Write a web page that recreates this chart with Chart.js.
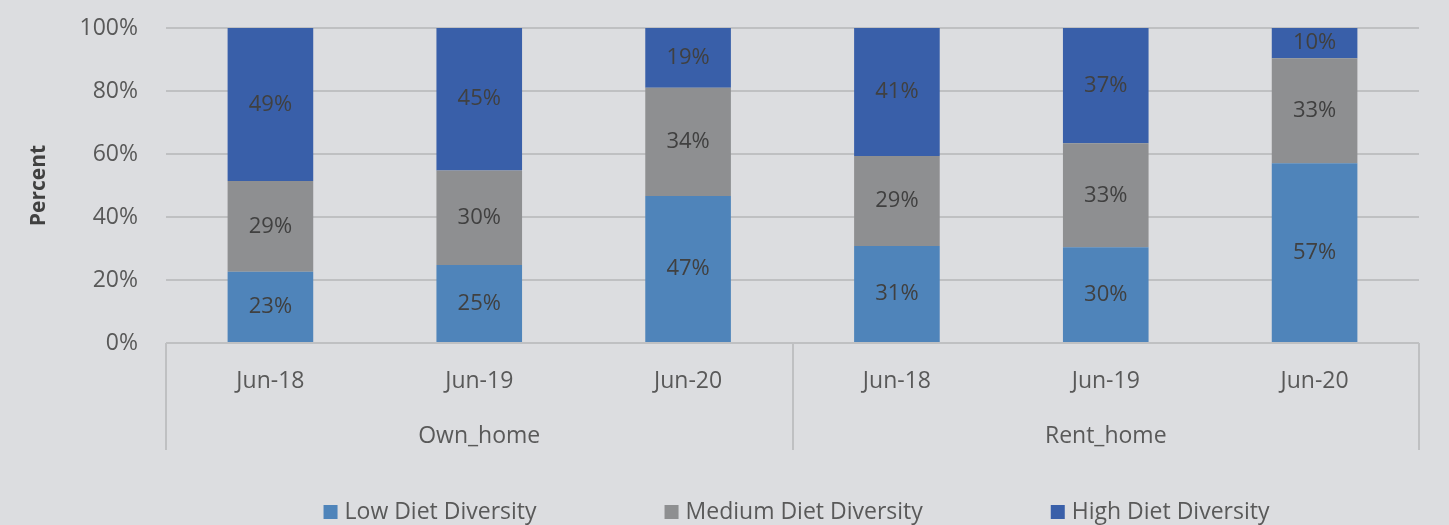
<!DOCTYPE html>
<html>
<head>
<meta charset="utf-8">
<script src="https://cdn.jsdelivr.net/npm/chart.js@4"></script>
<style>
  html, body { margin: 0; padding: 0; background: #dcdde0; }
  #wrap { width: 1449px; height: 525px; position: relative; }
</style>
</head>
<body>
<div id="wrap"><canvas id="dietChart"></canvas></div>
<script>
// ==============================
// DATA
// ==============================
const periods = ["Jun-18", "Jun-19", "Jun-20", "Jun-18", "Jun-19", "Jun-20"];
const groups = ["Own_home", "Rent_home"];
const lowDiversity = [22.6, 24.8, 46.7, 30.8, 30.4, 57.1];
const mediumDiversity = [28.8, 30.0, 34.3, 28.6, 33.0, 33.3];
const highDiversity = [48.6, 45.2, 19.0, 40.6, 36.6, 9.6];
const yTickValues = [0, 20, 40, 60, 80, 100];

const FONT = "'Open Sans', sans-serif";
const gridColor = "#bfc0c2";
const tickColor = "#595959";
const labelColor = "#404040";

// two-level category axis: dividers + group names
const groupAxis = {
  id: "groupAxis",
  afterDraw(chart) {
    const { ctx, chartArea } = chart;
    const x = chart.scales.x;
    const w = x.width / periods.length;
    const per = periods.length / groups.length;
    ctx.save();
    ctx.strokeStyle = gridColor;
    ctx.lineWidth = 2;
    for (let g = 0; g <= groups.length; g++) {
      const px = Math.round(x.left + g * per * w);
      ctx.beginPath();
      ctx.moveTo(px, chartArea.bottom);
      ctx.lineTo(px, chartArea.bottom + 107);
      ctx.stroke();
    }
    ctx.fillStyle = tickColor;
    ctx.font = "23px " + FONT;
    ctx.textAlign = "center";
    ctx.textBaseline = "middle";
    groups.forEach((name, g) => {
      ctx.fillText(name, x.left + (g + 0.5) * per * w, chartArea.bottom + 93);
    });
    ctx.restore();
  }
};

// value labels in the middle of each segment
const segmentLabels = {
  id: "segmentLabels",
  afterDatasetsDraw(chart) {
    const { ctx } = chart;
    ctx.save();
    ctx.fillStyle = labelColor;
    ctx.font = "22px " + FONT;
    ctx.textAlign = "center";
    ctx.textBaseline = "middle";
    chart.data.datasets.forEach((ds, i) => {
      chart.getDatasetMeta(i).data.forEach((el, j) => {
        const p = el.getCenterPoint();
        ctx.fillText(Math.round(ds.data[j]) + "%", p.x, p.y);
      });
    });
    ctx.restore();
  }
};

// legend row at the bottom
const bottomLegend = {
  id: "bottomLegend",
  afterDraw(chart) {
    const { ctx, chartArea } = chart;
    const box = 14, gapBox = 7, gapItem = 128, y = 512;
    ctx.save();
    ctx.font = "23px " + FONT;
    ctx.textBaseline = "middle";
    const items = chart.data.datasets.map(ds => ({
      text: ds.label, color: ds.backgroundColor, w: ctx.measureText(ds.label).width
    }));
    const total = items.reduce((s, it) => s + box + gapBox + it.w, 0) + gapItem * (items.length - 1);
    let cx = (chartArea.left + chartArea.right) / 2 - total / 2 + 4;
    items.forEach(it => {
      ctx.fillStyle = it.color;
      ctx.fillRect(cx, y - box / 2, box, box);
      cx += box + gapBox;
      ctx.fillStyle = tickColor;
      ctx.fillText(it.text, cx, y);
      cx += it.w + gapItem;
    });
    ctx.restore();
  }
};

const ctx = document.getElementById("dietChart").getContext("2d");
new Chart(ctx, {
  type: "bar",
  data: {
    labels: periods,
    datasets: [
      { label: "Low Diet Diversity", data: lowDiversity, backgroundColor: "#4f84ba" },
      { label: "Medium Diet Diversity", data: mediumDiversity, backgroundColor: "#8e8f91" },
      { label: "High Diet Diversity", data: highDiversity, backgroundColor: "#395fa9" }
    ]
  },
  options: {
    responsive: true,
    maintainAspectRatio: false,
    animation: false,
    layout: { padding: { top: 28, right: 30, bottom: 0, left: 0 } },
    datasets: { bar: { categoryPercentage: 1, barPercentage: 0.41 } },
    plugins: { legend: { display: false }, tooltip: { enabled: false } },
    scales: {
      x: {
        stacked: true,
        grid: { display: false },
        border: { display: false },
        ticks: { color: tickColor, font: { family: FONT, size: 23 }, padding: 17 },
        afterFit: s => { s.height = 182; }
      },
      y: {
        stacked: true,
        min: 0,
        max: 100,
        afterBuildTicks: s => { s.ticks = yTickValues.map(v => ({ value: v })); },
        grid: { color: gridColor, lineWidth: 2, drawTicks: false },
        border: { display: false },
        ticks: { color: tickColor, font: { family: FONT, size: 23 }, padding: 28, callback: v => v + "%" },
        title: {
          display: true,
          text: "Percent",
          color: labelColor,
          font: { family: FONT, size: 21, weight: "bold" },
          padding: { top: 26, bottom: 0 }
        },
        afterFit: s => { s.width = 166; s.paddingTop = 0; s.paddingBottom = 0; }
      }
    }
  },
  plugins: [groupAxis, segmentLabels, bottomLegend]
});
</script>
</body>
</html>
